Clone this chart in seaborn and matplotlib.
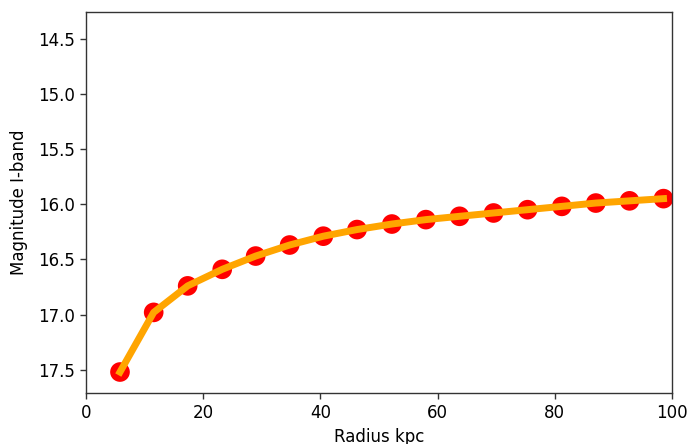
import matplotlib
matplotlib.use("Agg")
import matplotlib.pyplot as plt
import seaborn as sns
import pandas as pd

radius = [5.8, 11.55, 17.35, 23.25, 28.95, 34.75, 40.5, 46.25, 52.2, 58.0,
          63.75, 69.55, 75.35, 81.2, 87.0, 92.75, 98.55]
magnitude = [17.52, 16.98, 16.74, 16.59, 16.47, 16.37, 16.29, 16.23, 16.18, 16.14,
             16.11, 16.08, 16.05, 16.02, 15.99, 15.97, 15.95]

df = pd.DataFrame({"Radius kpc": radius, "Magnitude I-band": magnitude})

plt.rcParams["font.family"] = ["DejaVu Sans"]
plt.rcParams["font.size"] = 12

fig = plt.figure(figsize=(6.89, 4.44), dpi=100)
ax = fig.add_axes([86/689, 1-393/444, (672-86)/689, (393-12)/444])

sns.scatterplot(data=df, x="Radius kpc", y="Magnitude I-band", ax=ax,
                color="red", s=200, edgecolor="none", zorder=2)
sns.lineplot(data=df, x="Radius kpc", y="Magnitude I-band", ax=ax,
             color="orange", linewidth=5, zorder=3)

ax.set_xlim(0, 100)
ax.set_ylim(17.71, 14.26)
ax.set_xticks([0, 20, 40, 60, 80, 100])
ax.set_yticks([14.5, 15.0, 15.5, 16.0, 16.5, 17.0, 17.5])
ax.set_yticklabels(["14.5", "15.0", "15.5", "16.0", "16.5", "17.0", "17.5"])
ax.tick_params(labelsize=12, length=4.5, width=1, color="#333333")
ax.set_xlabel("Radius kpc", fontsize=12)
ax.set_ylabel("Magnitude I-band", fontsize=12, labelpad=7)
for sp in ax.spines.values():
    sp.set_color("#333333")
    sp.set_linewidth(1)

fig.savefig("out.png", dpi=100)
